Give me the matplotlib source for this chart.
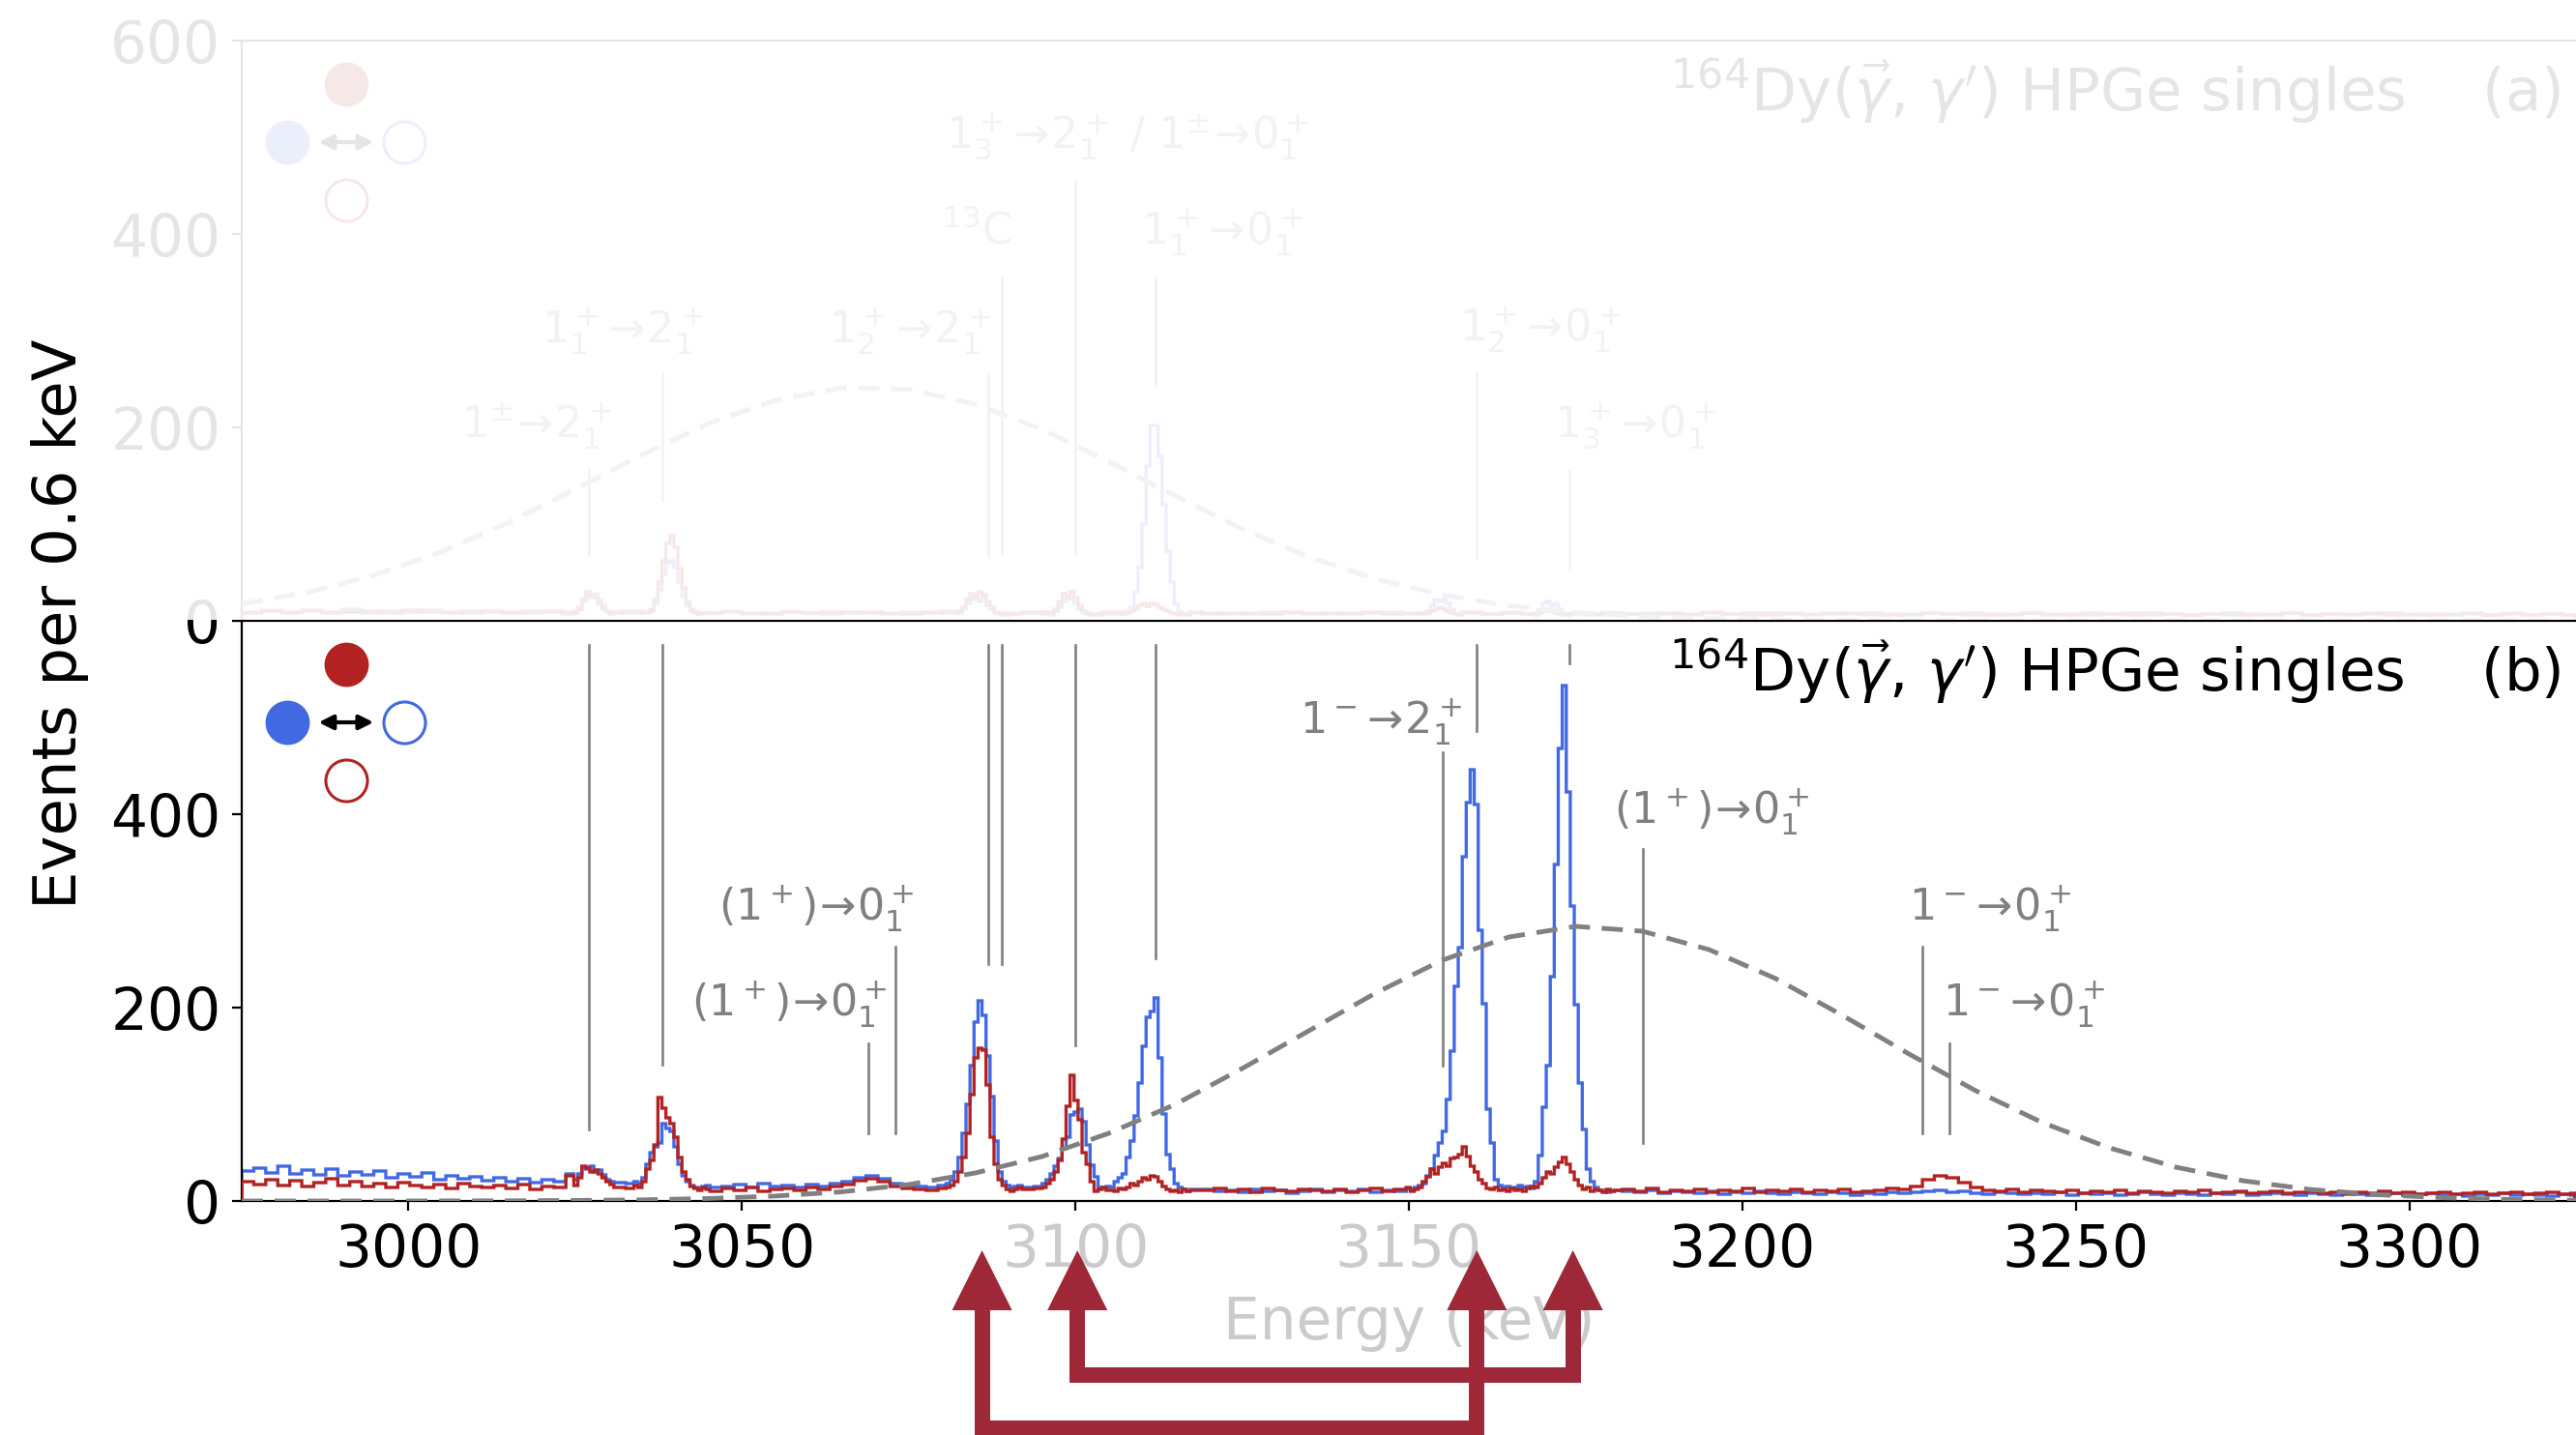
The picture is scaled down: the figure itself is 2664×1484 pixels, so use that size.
import numpy as np
import matplotlib
matplotlib.use("Agg")
import matplotlib.pyplot as plt
from matplotlib.patches import Rectangle, Polygon
from matplotlib.lines import Line2D
import matplotlib.transforms as mtransforms

# ---------------- data ----------------
BIN_WIDTH = 0.6
E_START = 2975.0
N_BINS = 583
XLIM = (2975, 3325)
XTICKS = [3000, 3050, 3100, 3150, 3200, 3250, 3300]
YTICKS = [0, 200, 400, 600]

# bottom panel (b): background levels in 1.8 keV blocks (3 bins each)
b_blue_bg = [31, 34, 29, 36, 28, 32, 27, 33, 26, 30,
             27, 31, 24, 28, 25, 29, 22, 26, 23, 25,
             21, 24, 20, 23, 19, 22, 20, 28, 32, 30,
             24, 19, 18, 20, 30, 60, 70, 35, 16, 14,
             15, 17, 14, 18, 15, 16, 14, 17, 15, 18,
             20, 24, 26, 23, 18, 16, 15, 14, 16, 15,
             15, 16, 14, 15, 16, 14, 15, 16, 14, 15,
             15, 14, 16, 15, 14, 15, 16, 14, 13, 12,
             12, 10, 11, 9, 12, 10, 11, 8, 10, 12,
             9, 11, 10, 12, 9, 11, 10, 13, 15, 18,
             20, 30, 60, 150, 300, 200, 30, 15, 16, 14,
             15, 16, 14, 12, 11, 10, 9, 11, 8, 10,
             9, 8, 10, 7, 9, 8, 10, 8, 7, 9,
             8, 7, 9, 8, 6, 8, 7, 9, 8, 9,
             10, 11, 9, 10, 8, 7, 9, 8, 7, 8,
             7, 9, 6, 8, 7, 8, 6, 7, 9, 7,
             6, 8, 7, 6, 8, 7, 9, 6, 7, 8,
             7, 6, 8, 7, 6, 8, 7, 6, 7, 8,
             6, 7, 8, 6, 7, 5, 7, 6, 8, 6,
             7, 6, 5, 7, 6]
b_red_bg = [20, 17, 22, 16, 21, 15, 19, 23, 16, 20,
            15, 18, 14, 19, 16, 14, 17, 13, 18, 15,
            14, 16, 13, 17, 12, 15, 14, 26, 33, 30,
            22, 14, 13, 15, 30, 90, 80, 40, 12, 10,
            13, 11, 14, 10, 12, 13, 11, 14, 12, 15,
            17, 21, 23, 20, 15, 13, 12, 11, 13, 12,
            12, 13, 11, 12, 14, 12, 13, 11, 12, 13,
            12, 11, 13, 12, 11, 12, 13, 11, 12, 11,
            11, 13, 10, 12, 9, 13, 11, 10, 12, 11,
            10, 12, 9, 11, 13, 10, 12, 14, 18, 22,
            25, 30, 40, 50, 40, 30, 20, 20, 30, 40,
            30, 20, 14, 12, 11, 12, 10, 13, 9, 11,
            10, 12, 9, 11, 10, 13, 9, 11, 10, 12,
            9, 11, 10, 12, 9, 10, 11, 13, 12, 15,
            22, 26, 24, 19, 14, 11, 10, 12, 9, 11,
            10, 9, 11, 8, 10, 9, 11, 8, 10, 9,
            8, 10, 9, 11, 8, 9, 10, 8, 9, 10,
            8, 9, 10, 8, 9, 7, 9, 8, 10, 8,
            9, 7, 8, 9, 7, 8, 9, 7, 8, 9,
            7, 8, 9, 7, 8]

# bottom panel peaks at full 0.6 keV resolution (key = low edge of first bin, keV)
b_blue_peaks = {
    3024.8: [22, 28, 35, 33, 36, 30, 32, 27, 22, 20],
    3033.8: [20, 18, 24, 38, 50, 56, 60, 80, 75, 72, 56, 38, 26, 20, 16, 14, 13, 15],
    3080.6: [18, 22, 30, 45, 70, 100, 140, 185, 207, 192, 150, 108, 62, 30, 20, 16, 14, 15],
    3095.0: [18, 22, 28, 36, 44, 54, 66, 89, 92, 95, 82, 58, 37, 25, 14, 13, 15],
    3105.2: [14, 20, 24, 28, 45, 62, 88, 122, 160, 190, 196, 210, 148, 90, 48, 33, 18, 14, 12, 10],
    3150.2: [12, 14, 16, 18, 26, 33, 47, 60, 72, 105, 155, 222, 262, 356, 412, 446, 410, 280,
             204, 95, 60, 22, 16, 14, 15, 13, 14],
    3166.4: [16, 14, 15, 13, 20, 47, 97, 140, 232, 348, 468, 533, 423, 305, 203, 122, 74, 33,
             20, 14, 11, 10, 9, 10],
}
b_red_peaks = {
    3024.8: [16, 24, 36, 34, 30, 32, 28, 24, 20, 17],
    3033.8: [16, 14, 20, 33, 42, 58, 107, 96, 86, 80, 66, 45, 30, 22, 15, 13, 11, 14],
    3080.6: [14, 16, 20, 30, 45, 70, 110, 148, 158, 156, 120, 66, 38, 22, 16, 12, 10, 12],
    3095.0: [14, 18, 22, 30, 42, 64, 98, 130, 104, 84, 50, 38, 20, 10, 12, 14, 11],
    3105.2: [11, 10, 13, 12, 14, 18, 16, 20, 24, 22, 26, 25, 20, 15, 12, 10, 11, 9, 12, 10],
    3150.2: [10, 12, 14, 20, 25, 33, 28, 35, 39, 36, 44, 45, 48, 56, 46, 36, 30, 22, 18, 13,
             12, 14, 11, 12, 10, 13, 11],
    3166.4: [12, 10, 13, 15, 14, 18, 24, 30, 28, 35, 40, 45, 38, 30, 22, 16, 12, 14, 10, 12,
             11, 9, 12, 10],
}

# top panel (a): background levels in 3.0 keV blocks (5 bins each)
a_blue_bg = [9, 11, 8, 10, 9, 12, 8, 10, 9, 11,
             8, 10, 9, 8, 10, 9, 7, 9, 8, 10,
             8, 7, 9, 8, 10, 8, 7, 9, 8, 7,
             9, 8, 7, 9, 8, 10, 8, 7, 8, 9,
             7, 8, 9, 7, 8, 7, 9, 8, 7, 8,
             7, 9, 8, 7, 8, 7, 8, 9, 7, 8,
             7, 8, 7, 9, 7, 8, 7, 6, 8, 7,
             8, 7, 6, 8, 7, 6, 8, 7, 6, 7,
             8, 6, 7, 6, 8, 7, 6, 7, 6, 8,
             6, 7, 6, 7, 8, 6, 7, 6, 7, 6,
             7, 6, 8, 6, 7, 6, 7, 8, 6, 7,
             6, 7, 6, 8, 6, 7, 6]
a_red_bg = [8, 10, 9, 11, 8, 9, 10, 8, 11, 9,
            9, 8, 10, 9, 8, 10, 9, 8, 9, 8,
            9, 8, 10, 8, 9, 7, 8, 9, 8, 9,
            8, 9, 8, 7, 9, 8, 9, 8, 7, 8,
            9, 7, 8, 9, 8, 7, 8, 9, 8, 7,
            8, 7, 9, 8, 7, 8, 9, 7, 8, 7,
            8, 9, 7, 8, 7, 9, 8, 7, 8, 7,
            7, 8, 7, 9, 7, 8, 6, 8, 7, 8,
            7, 8, 6, 7, 8, 7, 8, 6, 7, 8,
            7, 6, 8, 7, 6, 8, 7, 6, 7, 8,
            6, 7, 8, 6, 7, 7, 8, 6, 7, 6,
            7, 8, 6, 7, 6, 7, 6]
a_blue_peaks = {
    3024.8: [10, 14, 20, 26, 24, 28, 22, 16, 10, 8],
    3036.2: [10, 18, 32, 48, 60, 62, 55, 40, 26, 16, 10, 8, 7],
    3082.4: [8, 12, 18, 22, 26, 20, 24, 16, 12, 8, 7, 6, 8, 7],
    3096.2: [6, 10, 14, 20, 24, 22, 18, 12, 8, 7, 6, 7, 6],
    3107.0: [8, 10, 14, 30, 55, 100, 160, 202, 202, 170, 120, 72, 40, 18, 10, 8, 7],
    3152.6: [10, 16, 22, 20, 22, 18, 12, 8, 7],
    3168.8: [8, 12, 18, 20, 16, 18, 12, 8, 6],
}
a_red_peaks = {
    3024.8: [8, 12, 22, 30, 26, 24, 18, 12, 9, 7],
    3036.2: [12, 22, 40, 62, 80, 88, 76, 54, 34, 20, 12, 9, 7],
    3082.4: [10, 14, 22, 28, 24, 30, 27, 20, 14, 9, 8, 7, 6, 7],
    3096.2: [8, 12, 20, 28, 26, 30, 24, 16, 10, 8, 7, 6, 7],
    3107.0: [7, 8, 10, 12, 16, 18, 15, 18, 17, 14, 12, 10, 8, 7, 6, 7, 6],
    3152.6: [8, 10, 12, 14, 12, 10, 8, 7, 6],
    3168.8: [6, 8, 10, 12, 10, 8, 7, 6, 6],
}

# beam profiles (dashed), read every 10 keV
profile_energy = list(range(2975, 3326, 10))
a_profile = [17.5, 29.7, 47.5, 71.6, 101.6, 136, 171.6, 204, 228, 241, 239.4, 224, 198,
             164.6, 129, 95, 66, 43.4, 26.8, 15.6, 8.6, 4.4, 2.2, 1.0, 0.4, 0.2, 0.1,
             0, 0, 0, 0, 0, 0, 0, 0, 0]
b_profile = [0.0, 0.0, 0.0, 0.1, 0.2, 0.6, 1.2, 2.6, 5.1, 9.5, 17, 29, 46, 70, 100, 137,
             176, 215, 249, 273, 284, 279, 260, 230, 192, 152, 114, 81, 55, 35, 21, 12,
             6.6, 3.4, 1.6, 0.8]

# transition markers: (energy, y_low, y_high)
a_lines = [(3027.1, 69, 156), (3038.1, 125, 256), (3087.0, 69, 256), (3089.0, 69, 355),
           (3100.0, 69, 455), (3112.05, 244, 355), (3160.1, 65, 256), (3174.0, 54, 155)]
b_lines = [(3027.1, 74, 575), (3038.1, 141, 575), (3069.0, 70, 163), (3073.06, 70, 263),
           (3087.0, 245, 575), (3089.0, 245, 575), (3100.0, 161, 575), (3112.05, 251, 575),
           (3155.1, 140, 464), (3160.1, 486, 575), (3174.0, 556, 575), (3185.05, 60, 364),
           (3227.05, 70, 263), (3231.1, 70, 163)]
# labels: (text, x, y, ha)
a_labels = [(r"$1^{\pm}\!\rightarrow\!2_1^+$", 3030.5, 201, "right"),
            (r"$1_1^+\!\rightarrow\!2_1^+$", 3044.3, 299, "right"),
            (r"$1_2^+\!\rightarrow\!2_1^+$", 3087.3, 299, "right"),
            (r"$^{13}$C", 3090.4, 403, "right"),
            (r"$1_3^+\!\rightarrow\!2_1^+$ / $1^{\pm}\!\rightarrow\!0_1^+$", 3080.6, 500, "left"),
            (r"$1_1^+\!\rightarrow\!0_1^+$", 3109.8, 401, "left"),
            (r"$1_2^+\!\rightarrow\!0_1^+$", 3157.6, 301, "left"),
            (r"$1_3^+\!\rightarrow\!0_1^+$", 3171.8, 201, "left")]
b_labels = [(r"$(1^+)\!\rightarrow\!0_1^+$", 3075.8, 302, "right"),
            (r"$(1^+)\!\rightarrow\!0_1^+$", 3071.8, 203, "right"),
            (r"$1^-\!\rightarrow\!2_1^+$", 3157.9, 495, "right"),
            (r"$(1^+)\!\rightarrow\!0_1^+$", 3180.7, 402, "left"),
            (r"$1^-\!\rightarrow\!0_1^+$", 3224.9, 302, "left"),
            (r"$1^-\!\rightarrow\!0_1^+$", 3230.0, 203, "left")]

# cascade arrows below the axis: (from peak, to peak) energies
arrow_pairs = [(3100.3, 3174.6), (3086.0, 3160.2)]

BLUE = "#4169E1"
RED = "#B22222"
GRAY = "#808080"
ARROW = "#9E2838"


def build(bg, block, peaks):
    vals = np.repeat(np.asarray(bg, float), block)
    if len(vals) < N_BINS:
        vals = np.pad(vals, (0, N_BINS - len(vals)), mode="edge")
    vals = vals[:N_BINS].copy()
    for start, seg in peaks.items():
        k = int(round((start - E_START) / BIN_WIDTH))
        vals[k:k + len(seg)] = seg
    return vals


edges = E_START + BIN_WIDTH * np.arange(N_BINS + 1)

W, H = 2664, 1484
fig = plt.figure(figsize=(W / 100, H / 100), dpi=100)
L = 250 / W
B = 242 / H
J = 842 / H
T = 1442 / H
ax_a = fig.add_axes([L, J, 1 - L, T - J])
ax_b = fig.add_axes([L, B, 1 - L, J - B])

TICK_FS = 43


def setup(ax, bottom):
    ax.set_xlim(*XLIM)
    ax.set_ylim(0, 600)
    ax.set_yticks(YTICKS)
    for s in ax.spines.values():
        s.set_linewidth(1.6)
    ax.spines["right"].set_visible(False)
    ax.tick_params(axis="both", labelsize=TICK_FS, length=7.5, width=1.6, pad=8,
                   direction="out")
    if bottom:
        ax.set_xticks(XTICKS)
        ax.set_yticklabels(["0", "200", "400", ""])
        ax.set_xlabel("Energy (keV)", fontsize=TICK_FS, labelpad=12)
    else:
        ax.set_xticks(XTICKS)
        ax.tick_params(axis="x", bottom=False, labelbottom=False)


def draw_panel(ax, blue, red, profile, lines, labels, tag):
    ax.stairs(blue, edges, color=BLUE, lw=2.4, zorder=2)
    ax.stairs(red, edges, color=RED, lw=2.4, zorder=3)
    for e, y0, y1 in lines:
        ax.plot([e, e], [y0, y1], color=GRAY, lw=1.9, zorder=4)
    for txt, x, y, ha in labels:
        ax.text(x, y, txt, color=GRAY, fontsize=32, ha=ha, va="center", zorder=5)
    ax.plot(profile_energy, profile, color=GRAY, lw=3.5, dashes=(4.5, 2.5), zorder=4)
    ax.text(0.9934, 0.8777, r"$^{164}$Dy($\vec{\gamma}$, $\gamma'$) HPGe singles    (" + tag + ")",
            transform=ax.transAxes, ha="right", va="baseline", fontsize=44, zorder=6)
    # polarisation legend
    ax.plot([0.0446], [0.925], "o", ms=33, color=RED, mew=0, transform=ax.transAxes,
            clip_on=False, zorder=6)
    ax.plot([0.0196], [0.825], "o", ms=33, color=BLUE, mew=0, transform=ax.transAxes,
            clip_on=False, zorder=6)
    ax.plot([0.0696], [0.825], "o", ms=31, mfc="none", mec=BLUE, mew=2.2,
            transform=ax.transAxes, clip_on=False, zorder=6)
    ax.plot([0.0446], [0.725], "o", ms=31, mfc="none", mec=RED, mew=2.2,
            transform=ax.transAxes, clip_on=False, zorder=6)
    ax.annotate("", xy=(0.0565, 0.825), xytext=(0.0329, 0.825), xycoords="axes fraction",
                arrowprops=dict(arrowstyle="<|-|>", lw=3, color="black",
                                mutation_scale=22, shrinkA=0, shrinkB=0), zorder=6)


setup(ax_a, False)
setup(ax_b, True)
draw_panel(ax_a, build(a_blue_bg, 5, a_blue_peaks), build(a_red_bg, 5, a_red_peaks),
           a_profile, a_lines, a_labels, "a")
draw_panel(ax_b, build(b_blue_bg, 3, b_blue_peaks), build(b_red_bg, 3, b_red_peaks),
           b_profile, b_lines, b_labels, "b")

# fade the upper panel
fig.add_artist(Rectangle((0, J + 1.2 / H), 1, 1 - J, transform=fig.transFigure,
                         facecolor="white", alpha=0.9, edgecolor="none", zorder=10))

# y label spanning both panels
fig.text(0.0233, 0.565, "Events per 0.6 keV", rotation=90, ha="center", va="center",
         fontsize=45, zorder=20)

# cascade arrows below the axis
trans = mtransforms.blended_transform_factory(ax_b.transData, fig.transFigure)
y_tip, y_base = 191 / H, 129 / H
bar_y = [62 / H, 7 / H]
head_hw = 4.5
xs_all = [x for p in arrow_pairs for x in p]
fig.add_artist(Rectangle((min(xs_all) - head_hw, 0), max(xs_all) - min(xs_all) + 2 * head_hw,
                         224 / H, transform=trans, facecolor="white", alpha=0.8,
                         edgecolor="none", zorder=10))
for (x1, x2), yb in zip(arrow_pairs, bar_y):
    fig.add_artist(Line2D([x1, x1, x2, x2], [y_base + 1 / H, yb, yb, y_base + 1 / H],
                          transform=trans, color=ARROW, lw=11.5,
                          solid_joinstyle="miter", solid_capstyle="butt", zorder=11))
    for x in (x1, x2):
        fig.add_artist(Polygon([(x - head_hw, y_base), (x + head_hw, y_base), (x, y_tip)],
                               closed=True, transform=trans, facecolor=ARROW,
                               edgecolor="none", zorder=12))

fig.savefig("out.png", dpi=100)
